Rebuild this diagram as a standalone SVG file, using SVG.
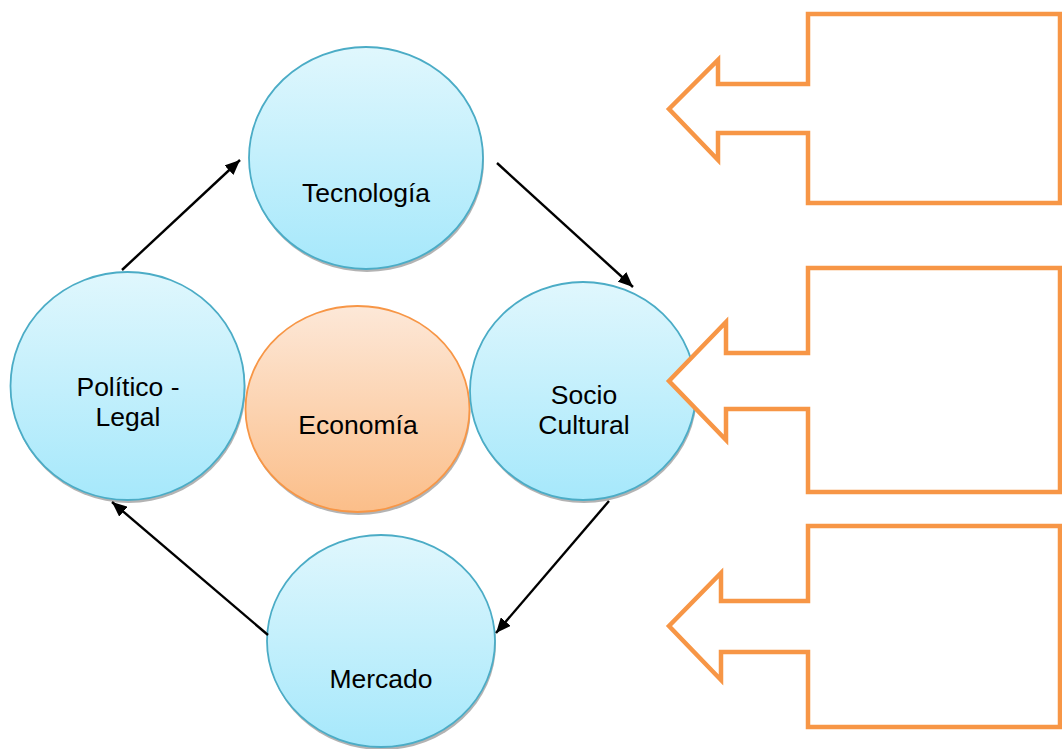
<svg xmlns="http://www.w3.org/2000/svg" width="1062" height="749" viewBox="0 0 1062 749">
<style>
.blue{fill:url(#gb);stroke:#4BACC6;stroke-width:1.8}
.orange{fill:url(#go);stroke:#F79646;stroke-width:1.8}
.shadow{fill:#9a9a9a;opacity:0.75}
.lbl{font-family:"Liberation Sans",Arial,sans-serif;font-size:26.5px;fill:#000;text-anchor:middle}
.conn{stroke:#000;stroke-width:2.4;fill:none;marker-end:url(#ah)}
.call{fill:#fff;stroke:#F79646;stroke-width:4.5;stroke-linejoin:miter}
</style>
<defs>
<linearGradient id="gb" x1="0" y1="0" x2="0" y2="1">
<stop offset="0" stop-color="#E0F7FD"/>
<stop offset="1" stop-color="#A6E8FB"/>
</linearGradient>
<linearGradient id="go" x1="0" y1="0" x2="0" y2="1">
<stop offset="0" stop-color="#FDE8D8"/>
<stop offset="1" stop-color="#FBBE89"/>
</linearGradient>
<marker id="ah" markerWidth="15" markerHeight="13" refX="15" refY="6.5" orient="auto" markerUnits="userSpaceOnUse" viewBox="0 0 15 13">
<path d="M0,0 L15,6.5 L0,13 z" fill="#000"/>
</marker>
</defs>
<g id="node-tecnologia">
<ellipse class="shadow" cx="367" cy="161" rx="117" ry="111"/>
<ellipse class="blue" cx="366" cy="158" rx="117" ry="111"/>
<text class="lbl" x="366" y="202">Tecnología</text>
</g>
<g id="node-politico">
<ellipse class="shadow" cx="128.5" cy="389" rx="117" ry="114"/>
<ellipse class="blue" cx="127.5" cy="386" rx="117" ry="114"/>
<text class="lbl" x="128" y="396">Político -</text>
<text class="lbl" x="128" y="426">Legal</text>
</g>
<g id="node-economia">
<ellipse class="shadow" cx="358.5" cy="412" rx="112" ry="103"/>
<ellipse class="orange" cx="357.5" cy="409" rx="112" ry="103"/>
<text class="lbl" x="358" y="434">Economía</text>
</g>
<g id="node-socio">
<ellipse class="shadow" cx="584" cy="394" rx="113" ry="109"/>
<ellipse class="blue" cx="583" cy="391" rx="113" ry="109"/>
<text class="lbl" x="584" y="404">Socio</text>
<text class="lbl" x="584" y="434">Cultural</text>
</g>
<g id="node-mercado">
<ellipse class="shadow" cx="382" cy="644" rx="114" ry="106"/>
<ellipse class="blue" cx="381" cy="641" rx="114" ry="106"/>
<text class="lbl" x="381" y="688">Mercado</text>
</g>
<g id="connectors">
<line class="conn" x1="122" y1="270" x2="240" y2="160"/>
<line class="conn" x1="497" y1="163" x2="633" y2="287"/>
<line class="conn" x1="609" y1="501" x2="496" y2="633"/>
<line class="conn" x1="268" y1="635" x2="112" y2="502"/>
</g>
<g id="callout-1">
<path class="call" d="M808,14 H1060 V203 H808 V133 H718 V160 L669,109 L718,60 V84 H808 Z"/>
</g>
<g id="callout-2">
<path class="call" d="M808,268 H1060 V492 H808 V409 H726 V440 L669,381 L726,322 V353 H808 Z"/>
</g>
<g id="callout-3">
<path class="call" d="M808,526 H1060 V727 H808 V652 H721 V680 L669,626 L721,573 V601 H808 Z"/>
</g>
</svg>
